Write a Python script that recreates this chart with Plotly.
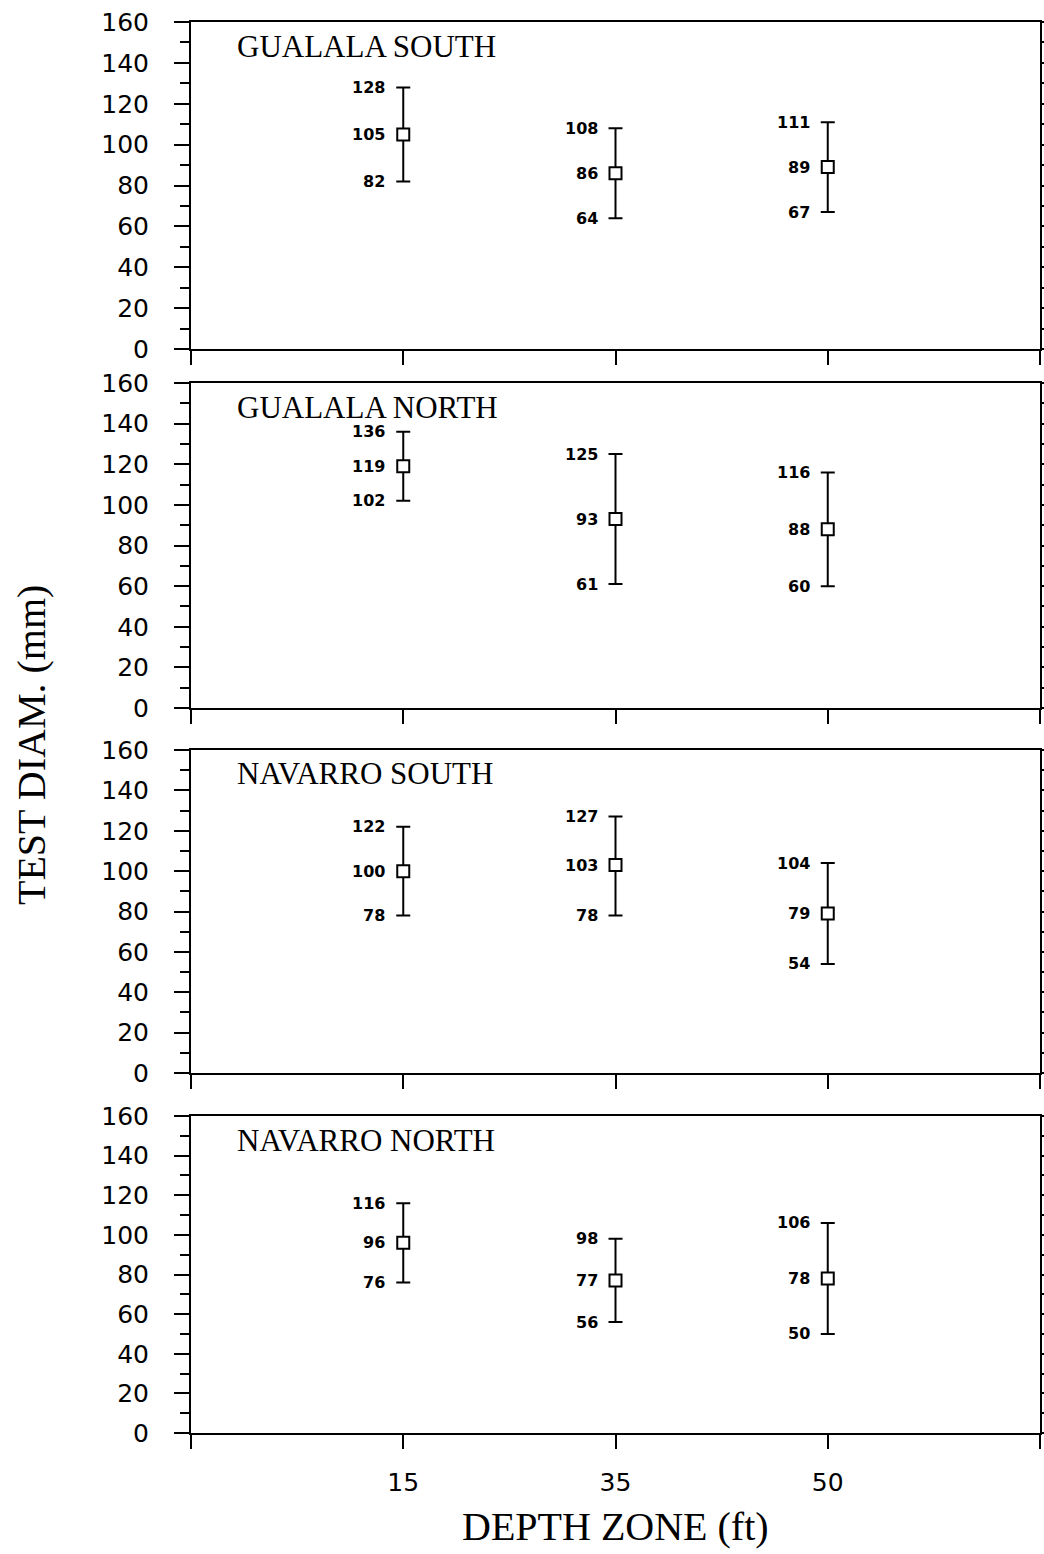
import plotly.graph_objects as go

# ---- data ----
depth_labels = ["15", "35", "50"]
depth_pos = [1, 2, 3]
site_names = ["GUALALA SOUTH", "GUALALA NORTH", "NAVARRO SOUTH", "NAVARRO NORTH"]

gualala_south_hi = [128, 108, 111]
gualala_south_mean = [105, 86, 89]
gualala_south_lo = [82, 64, 67]

gualala_north_hi = [136, 125, 116]
gualala_north_mean = [119, 93, 88]
gualala_north_lo = [102, 61, 60]

navarro_south_hi = [122, 127, 104]
navarro_south_mean = [100, 103, 79]
navarro_south_lo = [78, 78, 54]

navarro_north_hi = [116, 98, 106]
navarro_north_mean = [96, 77, 78]
navarro_north_lo = [76, 56, 50]

y_ticks = [0, 20, 40, 60, 80, 100, 120, 140, 160]
y_minor = [10, 30, 50, 70, 90, 110, 130, 150]

panels = [
    (site_names[0], gualala_south_hi, gualala_south_mean, gualala_south_lo),
    (site_names[1], gualala_north_hi, gualala_north_mean, gualala_north_lo),
    (site_names[2], navarro_south_hi, navarro_south_mean, navarro_south_lo),
    (site_names[3], navarro_north_hi, navarro_north_mean, navarro_north_lo),
]

# ---- layout geometry (pixels) ----
W, H = 1044, 1554
L, R = 191, 4
panel_px = [(22, 349), (383, 708), (750, 1073), (1116, 1433)]

TICK_FONT = dict(family="DejaVu Sans", size=25, color="black")
TITLE_FONT = dict(family="Liberation Serif", size=31, color="black")
VAL_FONT = dict(family="DejaVu Sans", size=16, color="black", weight="bold")

fig = go.Figure()
layout = dict(
    width=W, height=H,
    margin=dict(l=L, r=R, t=0, b=0, autoexpand=False),
    paper_bgcolor="white", plot_bgcolor="white",
    showlegend=False,
)
annotations = []

for i, (name, hi, mean, lo) in enumerate(panels):
    sfx = "" if i == 0 else str(i + 1)
    xa, ya = "x" + sfx, "y" + sfx
    fig.add_trace(go.Scatter(
        x=depth_pos, y=mean, mode="markers",
        marker=dict(symbol="square", size=12, color="white",
                    line=dict(color="black", width=2)),
        error_y=dict(type="data", symmetric=False,
                     array=[h - m for h, m in zip(hi, mean)],
                     arrayminus=[m - l for m, l in zip(mean, lo)],
                     color="black", thickness=2, width=7),
        xaxis=xa, yaxis=ya, cliponaxis=False,
    ))
    top, bot = panel_px[i]
    layout["xaxis" + sfx] = dict(
        domain=[0, 1], range=[0, 4], anchor=ya, automargin=False,
        tickvals=[0, 1, 2, 3, 4], ticktext=[""] + depth_labels + [""],
        showticklabels=(i == 3), ticks="outside", ticklen=14, tickwidth=2,
        tickcolor="black", showline=True, linewidth=2, linecolor="black",
        mirror=True, showgrid=False, zeroline=False,
        tickfont=TICK_FONT, ticklabelstandoff=12,
    )
    layout["yaxis" + sfx] = dict(
        domain=[1 - bot / H, 1 - top / H], range=[0, 160], anchor=xa,
        automargin=False,
        tickvals=y_ticks, ticks="outside", ticklen=15, tickwidth=2,
        tickcolor="black",
        minor=dict(tickvals=y_minor, ticks="outside", ticklen=9, tickwidth=2,
                   tickcolor="black"),
        showline=True, linewidth=2, linecolor="black", mirror="ticks",
        showgrid=False, zeroline=False, tickfont=TICK_FONT,
        ticklabelstandoff=20,
    )
    # panel title
    annotations.append(dict(
        text=name, xref=xa + " domain", yref=ya + " domain",
        x=(236 - L) / (W - L - R), y=1 - 24 / (bot - top),
        xanchor="left", yanchor="middle", borderpad=0,
        showarrow=False, font=TITLE_FONT,
    ))
    # value labels
    for xp, h, m, l in zip(depth_pos, hi, mean, lo):
        for v in (h, m, l):
            annotations.append(dict(
                text=str(v), xref=xa, yref=ya, x=xp, y=v,
                xanchor="right", yanchor="middle", xshift=-17, borderpad=0,
                showarrow=False, font=VAL_FONT,
            ))

# axis titles
annotations.append(dict(
    text="TEST DIAM. (mm)", xref="paper", yref="paper",
    x=(31 - L) / (W - L - R), y=1 - 745 / H, textangle=-90,
    xanchor="center", yanchor="middle", showarrow=False,
    font=dict(family="Liberation Serif", size=40, color="black"),
))
annotations.append(dict(
    text="DEPTH ZONE (ft)", xref="paper", yref="paper",
    x=(615 - L) / (W - L - R), y=1 - 1526 / H,
    xanchor="center", yanchor="middle", showarrow=False,
    font=dict(family="Liberation Serif", size=40, color="black"),
))

layout["annotations"] = annotations
fig.update_layout(**layout)
fig.write_html("out.html")
